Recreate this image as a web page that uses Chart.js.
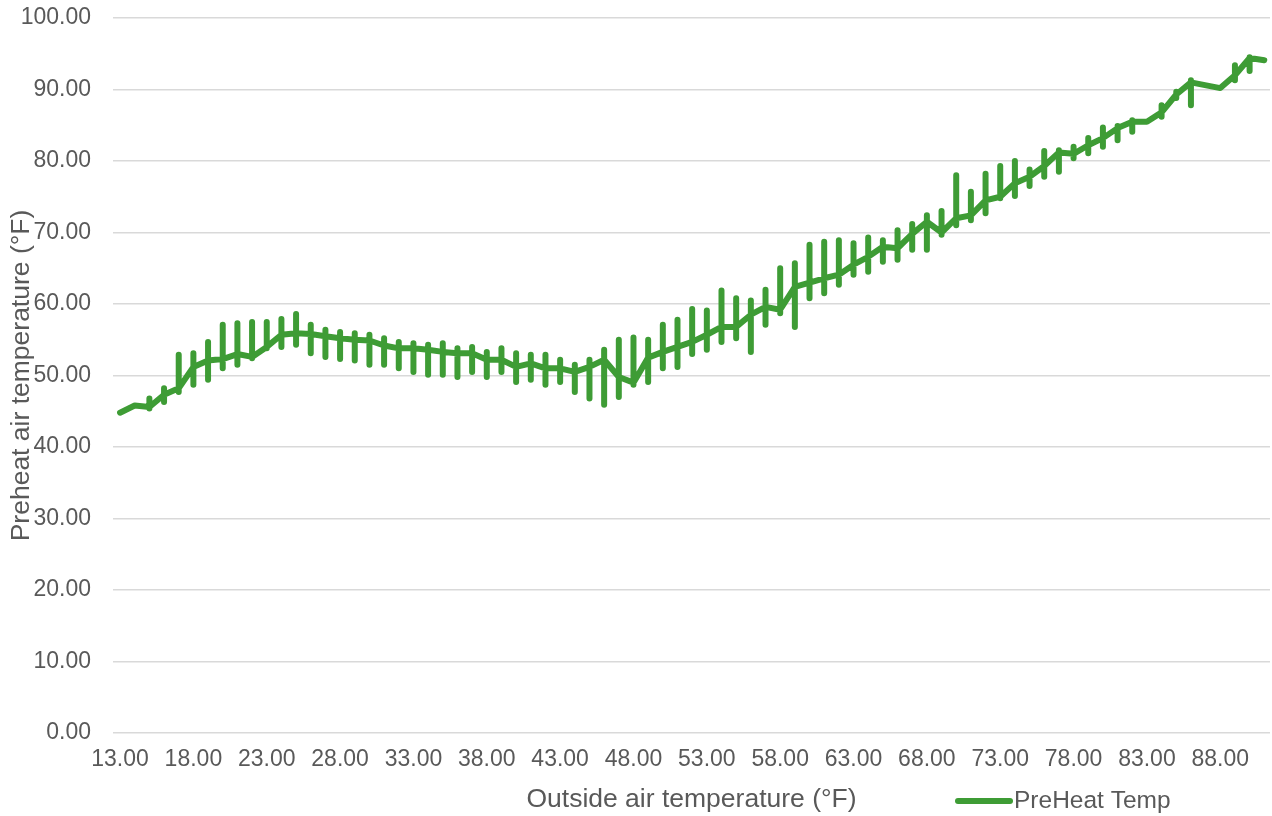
<!DOCTYPE html>
<html>
<head>
<meta charset="utf-8">
<title>PreHeat Temp</title>
<script src="https://cdn.jsdelivr.net/npm/chart.js@4.4.1/dist/chart.umd.min.js"></script>
<style>
  html, body { margin: 0; padding: 0; background: #fff; }
  #wrap { width: 1272px; height: 816px; }
</style>
</head>
<body>
<div id="wrap"><canvas id="preheatChart" width="1272" height="816"></canvas></div>
<script>
// outside air temperature (°F), one entry per logged degree
const outsideTemps = [
  13, 14, 15, 16, 17, 18, 19, 20, 21, 22, 23, 24, 25, 26, 27, 28, 29, 30,
  31, 32, 33, 34, 35, 36, 37, 38, 39, 40, 41, 42, 43, 44, 45, 46, 47, 48,
  49, 50, 51, 52, 53, 54, 55, 56, 57, 58, 59, 60, 61, 62, 63, 64, 65, 66,
  67, 68, 69, 70, 71, 72, 73, 74, 75, 76, 77, 78, 79, 80, 81, 82, 83, 84,
  85, 86, 88, 89, 90, 91
];

// typical preheat reading at each outside temperature
const preheatMid = [
  44.8, 45.8, 45.6, 47.3, 48.2, 51.2, 52.1, 52.3, 53.0, 52.6, 54.0, 55.7, 55.9, 55.8, 55.5, 55.2, 55.0, 54.9,
  54.2, 53.8, 53.8, 53.6, 53.3, 53.1, 53.1, 52.2, 52.2, 51.2, 51.7, 51.0, 51.0, 50.5, 51.2, 52.2, 49.8, 49.0,
  52.5, 53.3, 54.0, 54.7, 55.7, 56.8, 56.8, 58.5, 59.6, 59.2, 62.4, 63.0, 63.6, 64.1, 65.5, 66.6, 68.0, 67.8,
  69.8, 71.5, 70.0, 72.0, 72.4, 74.5, 75.0, 76.9, 77.8, 79.3, 81.2, 81.0, 82.2, 83.2, 84.6, 85.5, 85.5, 86.8,
  89.3, 91.0, 90.2, 92.0, 94.4, 94.1
];

// highest preheat reading at each outside temperature
const preheatHigh = [
  44.8, 45.8, 46.8, 48.2, 52.9, 53.1, 54.7, 57.1, 57.3, 57.5, 57.5, 57.9, 58.6, 57.1, 56.4, 56.1, 55.9, 55.7,
  55.2, 54.7, 54.5, 54.3, 54.5, 53.8, 54.0, 53.3, 53.8, 53.1, 52.9, 52.9, 52.2, 51.5, 52.2, 53.6, 55.0, 55.3,
  55.0, 57.1, 57.8, 59.3, 59.1, 61.9, 60.8, 60.5, 62.0, 65.0, 65.7, 68.3, 68.7, 68.9, 68.5, 69.3, 68.9, 70.3,
  71.2, 72.4, 73.0, 78.0, 75.7, 78.2, 79.3, 80.0, 78.8, 81.4, 81.5, 82.0, 83.2, 84.7, 84.9, 85.7, 85.5, 87.8,
  89.7, 91.3, 90.2, 93.4, 94.5, 94.1
];

// lowest preheat reading at each outside temperature
const preheatLow = [
  44.8, 45.8, 45.4, 46.3, 47.7, 48.7, 49.4, 51.0, 51.5, 52.4, 53.8, 54.0, 54.3, 53.1, 52.6, 52.3, 52.1, 51.5,
  51.5, 51.0, 50.5, 50.1, 50.1, 49.8, 50.5, 49.8, 50.5, 49.1, 49.4, 48.7, 49.1, 47.7, 46.8, 45.9, 47.0, 48.7,
  49.1, 51.0, 51.2, 53.0, 53.6, 54.7, 55.2, 53.3, 57.1, 58.7, 56.8, 60.8, 61.5, 62.7, 64.1, 64.5, 65.9, 66.2,
  67.6, 67.6, 69.7, 71.0, 71.7, 72.7, 74.8, 75.1, 76.5, 77.8, 78.5, 80.4, 81.1, 82.0, 82.9, 84.1, 85.5, 86.2,
  88.8, 87.8, 90.2, 91.3, 92.6, 94.1
];

const xTickValues = [13, 18, 23, 28, 33, 38, 43, 48, 53, 58, 63, 68, 73, 78, 83, 88];
const yTickValues = [0, 10, 20, 30, 40, 50, 60, 70, 80, 90, 100];

const seriesName = 'PreHeat Temp';
const lineGreen = '#3e9c35';
const textGrey = '#595959';
const fontStack = '"Liberation Sans", Arial, sans-serif';

// walk each temperature: typical value, up to the max, down to the min, back to typical
const points = [];
outsideTemps.forEach((t, i) => {
  points.push({ x: t, y: preheatMid[i] });
  if (preheatHigh[i] !== preheatMid[i] || preheatLow[i] !== preheatMid[i]) {
    points.push({ x: t, y: preheatHigh[i] });
    points.push({ x: t, y: preheatLow[i] });
    points.push({ x: t, y: preheatMid[i] });
  }
});

Chart.defaults.font.family = fontStack;
Chart.defaults.font.size = 23;
Chart.defaults.color = textGrey;

// legend sits on the same row as the x axis title, to the right
const legendRow = {
  id: 'legendRow',
  afterDraw(chart) {
    const ds = chart.data.datasets[0];
    const ctx = chart.ctx;
    ctx.save();
    ctx.strokeStyle = ds.borderColor;
    ctx.lineWidth = 6;
    ctx.lineCap = 'round';
    ctx.beginPath();
    ctx.moveTo(958, 801);
    ctx.lineTo(1010, 801);
    ctx.stroke();
    ctx.fillStyle = textGrey;
    ctx.font = '24.5px ' + fontStack;
    ctx.textBaseline = 'middle';
    ctx.textAlign = 'left';
    ctx.fillText(ds.label, 1014, 801);
    ctx.restore();
  }
};

new Chart(document.getElementById('preheatChart'), {
  type: 'scatter',
  data: {
    datasets: [{
      label: seriesName,
      data: points,
      showLine: true,
      borderColor: lineGreen,
      backgroundColor: lineGreen,
      borderWidth: 6,
      borderJoinStyle: 'round',
      borderCapStyle: 'round',
      pointRadius: 0,
      pointHoverRadius: 0,
      tension: 0
    }]
  },
  options: {
    responsive: false,
    animation: false,
    layout: { padding: { top: 18, right: 2, left: 0, bottom: 0 } },
    plugins: {
      legend: { display: false },
      tooltip: { enabled: false }
    },
    scales: {
      x: {
        type: 'linear',
        min: 12.52,
        max: 91.39,
        afterBuildTicks: s => { s.ticks = xTickValues.map(v => ({ value: v })); },
        afterFit: s => { s.height = 83; },
        grid: { display: false, drawTicks: false },
        border: { display: false },
        ticks: {
          padding: 13,
          maxRotation: 0,
          autoSkip: false,
          color: textGrey,
          callback: v => Number(v).toFixed(2)
        },
        title: {
          display: true,
          text: 'Outside air temperature (°F)',
          color: textGrey,
          font: { size: 26.5 },
          padding: { top: 0, bottom: 0 }
        }
      },
      y: {
        min: 0,
        max: 100,
        afterBuildTicks: s => { s.ticks = yTickValues.map(v => ({ value: v })); },
        // fixed gutter; label overhang is covered by the layout padding
        afterFit: s => { s.width = 113; s.paddingTop = 0; s.paddingBottom = 0; },
        grid: { color: '#d9d9d9', lineWidth: 1.5, drawTicks: false },
        border: { display: false },
        ticks: {
          padding: 22,
          color: textGrey,
          callback: v => Number(v).toFixed(2)
        },
        title: {
          display: true,
          text: 'Preheat air temperature (°F)',
          color: textGrey,
          font: { size: 26.5 },
          padding: { top: 6, bottom: 0 }
        }
      }
    }
  },
  plugins: [legendRow]
});
</script>
</body>
</html>
